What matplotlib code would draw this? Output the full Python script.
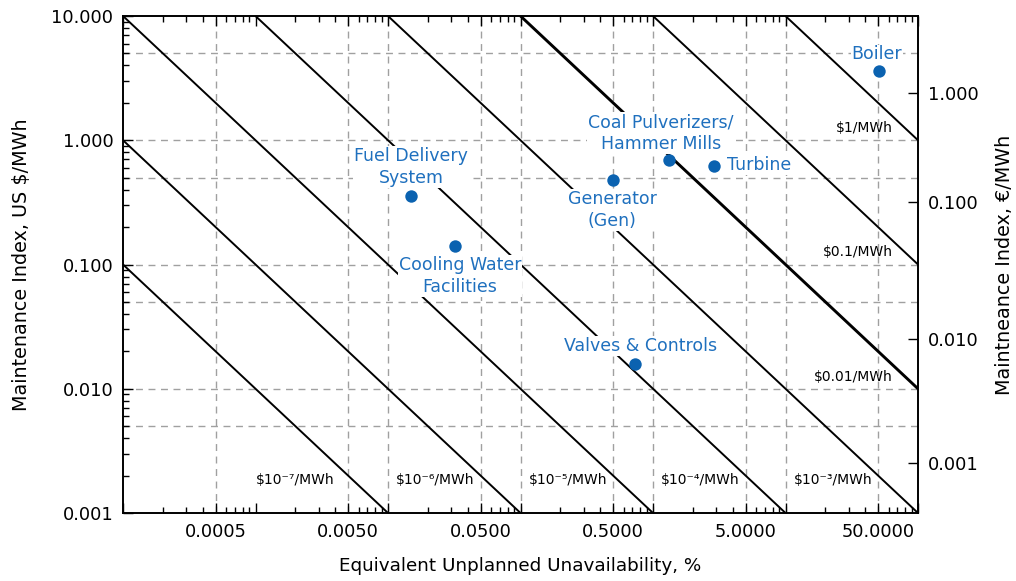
#!/usr/bin/python3
import numpy as np
import matplotlib
matplotlib.use("Agg")
import matplotlib.pyplot as plt
from matplotlib.ticker import FixedLocator, FuncFormatter, LogLocator, NullFormatter

# components: unavailability in %, maintenance index in US $/MWh
components = ["Boiler", "Coal Pulverizers/\nHammer Mills", "Turbine", "Generator\n(Gen)",
              "Fuel Delivery\nSystem", "Cooling Water\nFacilities", "Valves & Controls"]
unavail = [50.8, 1.32, 2.89, 0.50, 0.0149, 0.032, 0.73]
maint_usd = [3.6, 0.69, 0.62, 0.48, 0.356, 0.141, 0.0158]
# label offsets in points and alignment
label_offsets = [(-1.5, 12), (-6, 19.5), (9.5, 0.5), (-0.7, -21.5), (0, 21), (3.6, -21.5), (4.3, 13)]
label_ha = ["center", "center", "left", "center", "center", "center", "center"]

# iso-cost lines, $/MWh
costs = [1e-7, 1e-6, 1e-5, 1e-4, 1e-3, 1e-2, 1e-1, 1.0]
cost_labels = ["$10⁻⁷/MWh", "$10⁻⁶/MWh", "$10⁻⁵/MWh", "$10⁻⁴/MWh", "$10⁻³/MWh",
               "$0.01/MWh", "$0.1/MWh", "$1/MWh"]

# right axis (EUR) tick labels and where they sit on the left ($) scale
eur_labels = ["1.000", "0.100", "0.010", "0.001"]
eur_pos_usd = [2.40, 0.318, 0.0251, 0.00252]

xlim = (1e-4, 100)
ylim = (1e-3, 10)
x_ticks_lab = [0.0005, 0.005, 0.05, 0.5, 5, 50]

blue = "#0b62b0"
tblue = "#1f70be"
grid_c = "#a0a0a0"

plt.rcParams["font.family"] = ["DejaVu Sans"]
fig = plt.figure(figsize=(10.16, 5.81), dpi=100)
ax = fig.add_axes([123/1016, 68/581, 795/1016, 497/581])
ax.set_xscale("log")
ax.set_yscale("log")
ax.set_xlim(*xlim)
ax.set_ylim(*ylim)

# grid: dashed at 1x and 5x decades (no 0.001 vertical in original)
xgrid = [0.0005, 0.005, 0.01, 0.05, 0.1, 0.5, 1, 5, 10, 50]
ygrid = [0.005, 0.01, 0.05, 0.1, 0.5, 1, 5]
for g in xgrid:
    ax.axvline(g, color=grid_c, lw=1, ls=(0, (5, 4)), zorder=1)
for g in ygrid:
    ax.axhline(g, color=grid_c, lw=1, ls=(0, (5, 4)), zorder=1)

# iso-cost lines: cost = unavail/100 * index
for c, lab in zip(costs, cost_labels):
    p = 100 * c
    x0 = max(xlim[0], p / ylim[1])
    x1 = min(xlim[1], p / ylim[0])
    lw = 2.1 if c == 1e-2 else 1.4
    ax.plot([x0, x1], [p / x0, p / x1], color="black", lw=lw, zorder=2, solid_capstyle="butt")
    if x1 < xlim[1] or c == 1e-3:
        xl = 1.0e4 * c if c == 1e-7 else 1.15e4 * c
        ax.text(xl, 0.00185, lab, fontsize=10, ha="left", va="center", zorder=3)
    else:
        ax.text(64.7, 1.25 * c, lab, fontsize=10, ha="right", va="center", zorder=3)

ax.scatter(unavail, maint_usd, s=80, color=blue, zorder=5, linewidths=0)
for name, x, y, off, ha in zip(components, unavail, maint_usd, label_offsets, label_ha):
    ax.annotate(name, (x, y), xytext=off, textcoords="offset points", ha=ha, va="center",
                fontsize=12.5, color=tblue, linespacing=1.3, zorder=4,
                bbox=dict(fc="white", ec="none", pad=0.5))

# x ticks
xmaj = []
for k in range(-4, 3):
    xmaj += [10.0**k, 5 * 10.0**k]
xmaj = [v for v in xmaj if xlim[0] <= v <= xlim[1]]
ax.xaxis.set_major_locator(FixedLocator(xmaj))
ax.xaxis.set_major_formatter(FuncFormatter(
    lambda v, pos: "%.4f" % v if any(abs(v - t) < 1e-9 * max(t, 1) for t in x_ticks_lab) else ""))
ax.xaxis.set_minor_locator(LogLocator(base=10, subs=(2, 3, 4, 6, 7, 8, 9), numticks=20))
ax.xaxis.set_minor_formatter(NullFormatter())

ax.yaxis.set_major_locator(LogLocator(base=10, numticks=10))
ax.yaxis.set_major_formatter(FuncFormatter(lambda v, pos: "%.3f" % v))
ax.yaxis.set_minor_locator(LogLocator(base=10, subs=np.arange(2, 10), numticks=20))
ax.yaxis.set_minor_formatter(NullFormatter())

ax.tick_params(axis="both", which="major", direction="in", length=7, width=1, labelsize=12.8, pad=7)
ax.tick_params(axis="both", which="minor", direction="in", length=4, width=1)
ax.tick_params(axis="x", which="both", top=True)
ax.tick_params(axis="y", which="both", right=False)

for s in ax.spines.values():
    s.set_linewidth(1.2)

ax.set_xlabel("Equivalent Unplanned Unavailability, %", fontsize=13.2)
ax.set_ylabel("Maintenance Index, US $/MWh", fontsize=13.8)
ax.xaxis.set_label_coords(0.5, -0.088)
ax.yaxis.set_label_coords(-0.116, 0.5)

ax2 = ax.twinx()
ax2.set_yscale("log")
ax2.set_ylim(*ylim)
ax2.yaxis.set_major_locator(FixedLocator(eur_pos_usd))
ax2.yaxis.set_major_formatter(FuncFormatter(lambda v, pos: eur_labels[pos] if pos is not None and pos < len(eur_labels) else ""))
ax2.yaxis.set_minor_locator(FixedLocator([]))
ax2.tick_params(axis="y", which="major", direction="in", length=7, width=1, labelsize=12.8, pad=7)
ax2.set_ylabel("Maintneance Index, €/MWh", fontsize=13.8)
ax2.yaxis.set_label_coords(1.097, 0.5)
for s in ax2.spines.values():
    s.set_linewidth(1.2)

fig.savefig("out.png", dpi=100)
